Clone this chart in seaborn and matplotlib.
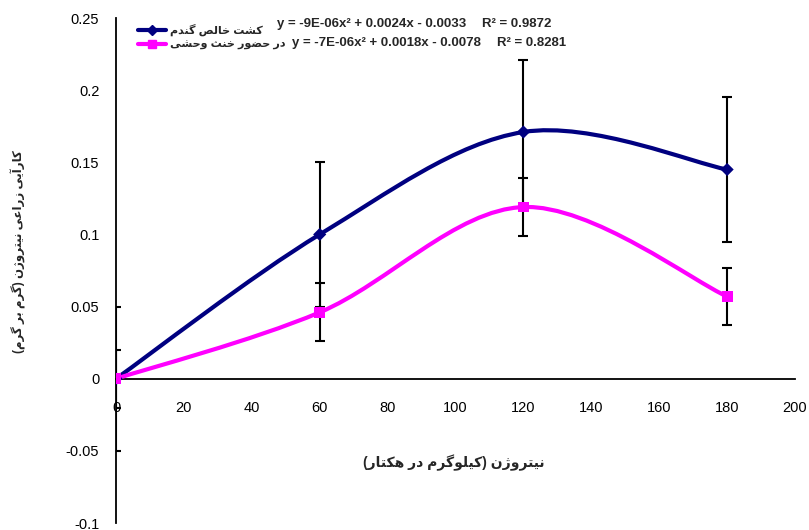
import numpy as np
import pandas as pd
import matplotlib
matplotlib.use("Agg")
import matplotlib.pyplot as plt
from matplotlib.path import Path
from matplotlib.patches import PathPatch
from matplotlib.lines import Line2D
import seaborn as sns

# datos
nitrogeno = [0, 60, 120, 180]
trigo_puro = [0.0, 0.100, 0.171, 0.145]
trigo_puro_err = [0.05, 0.05, 0.05, 0.05]
trigo_maleza = [0.0, 0.046, 0.119, 0.057]
trigo_maleza_err = [0.02, 0.02, 0.02, 0.02]

etiqueta_puro = "کشت خالص گندم"
etiqueta_maleza = "در حضور خنث وحشی"
ecuacion_puro = "y = -9E-06x² + 0.0024x - 0.0033"
ecuacion_maleza = "y = -7E-06x² + 0.0018x - 0.0078"
r2_puro = "R² = 0.9872"
r2_maleza = "R² = 0.8281"
titulo_x = "نیتروژن (کیلوگرم در هکتار)"
titulo_y = "کارآیی زراعی نیتروژن (گرم بر گرم)"

# formas de presentacion arabes: aislada, final, inicial, media
FORMAS = {
    "ا": ("\uFE8D", "\uFE8E", None, None),
    "آ": ("\uFE81", "\uFE82", None, None),
    "ب": ("\uFE8F", "\uFE90", "\uFE91", "\uFE92"),
    "ت": ("\uFE95", "\uFE96", "\uFE97", "\uFE98"),
    "ث": ("\uFE99", "\uFE9A", "\uFE9B", "\uFE9C"),
    "ح": ("\uFEA1", "\uFEA2", "\uFEA3", "\uFEA4"),
    "خ": ("\uFEA5", "\uFEA6", "\uFEA7", "\uFEA8"),
    "د": ("\uFEA9", "\uFEAA", None, None),
    "ر": ("\uFEAD", "\uFEAE", None, None),
    "ز": ("\uFEAF", "\uFEB0", None, None),
    "ژ": ("\uFB8A", "\uFB8B", None, None),
    "ش": ("\uFEB5", "\uFEB6", "\uFEB7", "\uFEB8"),
    "ص": ("\uFEB9", "\uFEBA", "\uFEBB", "\uFEBC"),
    "ض": ("\uFEBD", "\uFEBE", "\uFEBF", "\uFEC0"),
    "ع": ("\uFEC9", "\uFECA", "\uFECB", "\uFECC"),
    "ک": ("\uFB8E", "\uFB8F", "\uFB90", "\uFB91"),
    "گ": ("\uFB92", "\uFB93", "\uFB94", "\uFB95"),
    "ل": ("\uFEDD", "\uFEDE", "\uFEDF", "\uFEE0"),
    "م": ("\uFEE1", "\uFEE2", "\uFEE3", "\uFEE4"),
    "ن": ("\uFEE5", "\uFEE6", "\uFEE7", "\uFEE8"),
    "و": ("\uFEED", "\uFEEE", None, None),
    "ه": ("\uFEE9", "\uFEEA", "\uFEEB", "\uFEEC"),
    "ی": ("\uFBFC", "\uFBFD", "\uFBFE", "\uFBFF"),
}


def fa(texto):
    salida = []
    for i, c in enumerate(texto):
        if c not in FORMAS:
            salida.append(c)
            continue
        p = texto[i - 1] if i > 0 else ""
        q = texto[i + 1] if i < len(texto) - 1 else ""
        une_prev = p in FORMAS and FORMAS[p][2] is not None
        une_sig = FORMAS[c][2] is not None and q in FORMAS
        f = FORMAS[c]
        if une_prev and une_sig:
            salida.append(f[3])
        elif une_prev:
            salida.append(f[1])
        elif une_sig:
            salida.append(f[2])
        else:
            salida.append(f[0])
    visual = "".join(reversed(salida))
    return visual.translate(str.maketrans("()", ")("))


def curva_suave(xs, ys):
    pts = np.column_stack([xs, ys]).astype(float)
    verts = [pts[0]]
    codes = [Path.MOVETO]
    n = len(pts)
    for i in range(n - 1):
        p0 = pts[max(i - 1, 0)]
        p1 = pts[i]
        p2 = pts[i + 1]
        p3 = pts[min(i + 2, n - 1)]
        verts += [p1 + (p2 - p0) / 6, p2 - (p3 - p1) / 6, p2]
        codes += [Path.CURVE4] * 3
    return Path(verts, codes)


sns.set_style("white")
plt.rcParams["font.family"] = ["Liberation Sans", "DejaVu Sans"]

df = pd.DataFrame({
    "N": nitrogeno * 2,
    "valor": trigo_puro + trigo_maleza,
    "serie": ["puro"] * 4 + ["maleza"] * 4,
})

azul = "#000080"
rosa = "#FF00FF"

fig = plt.figure(figsize=(8.09, 5.30), dpi=100)
ax = fig.add_axes([0.1434, 0.0132, 0.8393, 0.9528])

ax.errorbar(nitrogeno, trigo_puro, yerr=trigo_puro_err, fmt="none",
            ecolor="black", elinewidth=1.5, capsize=3.5, capthick=1.5, zorder=2)
ax.errorbar(nitrogeno, trigo_maleza, yerr=trigo_maleza_err, fmt="none",
            ecolor="black", elinewidth=1.5, capsize=3.5, capthick=1.5, zorder=2)

ax.add_patch(PathPatch(curva_suave(nitrogeno, trigo_puro), facecolor="none",
                       edgecolor=azul, lw=3, zorder=3))
ax.add_patch(PathPatch(curva_suave(nitrogeno, trigo_maleza), facecolor="none",
                       edgecolor=rosa, lw=3, zorder=3))

sns.scatterplot(data=df, x="N", y="valor", hue="serie", style="serie",
                palette={"puro": azul, "maleza": rosa},
                markers={"puro": "D", "maleza": "s"},
                size="serie", sizes={"puro": 45, "maleza": 62},
                edgecolor="none", legend=False, ax=ax, zorder=4)

ax.set_xlim(0, 200)
ax.set_ylim(-0.1, 0.25)
ax.set_xticks(np.arange(0, 201, 20))
ax.set_yticks([-0.1, -0.05, 0, 0.05, 0.1, 0.15, 0.2, 0.25])
ax.set_yticklabels(["-0.1", "-0.05", "0", "0.05", "0.1", "0.15", "0.2", "0.25"])
ax.set_xlabel("")
ax.set_ylabel("")

ax.spines["left"].set_position(("data", 0))
ax.spines["bottom"].set_position(("data", 0))
ax.spines["top"].set_visible(False)
ax.spines["right"].set_visible(False)
for lado in ["left", "bottom"]:
    ax.spines[lado].set_color("black")
    ax.spines[lado].set_linewidth(1.3)
ax.tick_params(axis="both", direction="out", length=5, width=1.3,
               color="black", labelsize=10.5, labelcolor="black")
ax.tick_params(axis="x", pad=11)
ax.tick_params(axis="y", pad=7)
ax.patch.set_alpha(0)

manejadores = [
    Line2D([0], [0], color=azul, lw=3, marker="D", markersize=5),
    Line2D([0], [0], color=rosa, lw=3, marker="s", markersize=6),
]
fig.legend(manejadores, [fa(etiqueta_puro), fa(etiqueta_maleza)],
           loc="upper left", bbox_to_anchor=(132 / 809, 1 - 18 / 530),
           frameon=False, prop={"size": 8, "weight": "bold"},
           handlelength=2.6, handletextpad=0.3, labelspacing=0.35, borderpad=0)

fig.text(277 / 809, 1 - 24 / 530, ecuacion_puro, fontsize=9.5, fontweight="bold", va="center")
fig.text(482 / 809, 1 - 24 / 530, r2_puro, fontsize=9.5, fontweight="bold", va="center")
fig.text(292 / 809, 1 - 43 / 530, ecuacion_maleza, fontsize=9.5, fontweight="bold", va="center")
fig.text(497 / 809, 1 - 43 / 530, r2_maleza, fontsize=9.5, fontweight="bold", va="center")

ax.text(0.498, 0.119, fa(titulo_x), transform=ax.transAxes, ha="center",
        va="center", fontsize=10, fontweight="bold")
fig.text(18 / 809, 1 - 252 / 530, fa(titulo_y), rotation=90, ha="center",
         va="center", fontsize=8.5, fontweight="bold")

fig.savefig("out.png", dpi=100)
